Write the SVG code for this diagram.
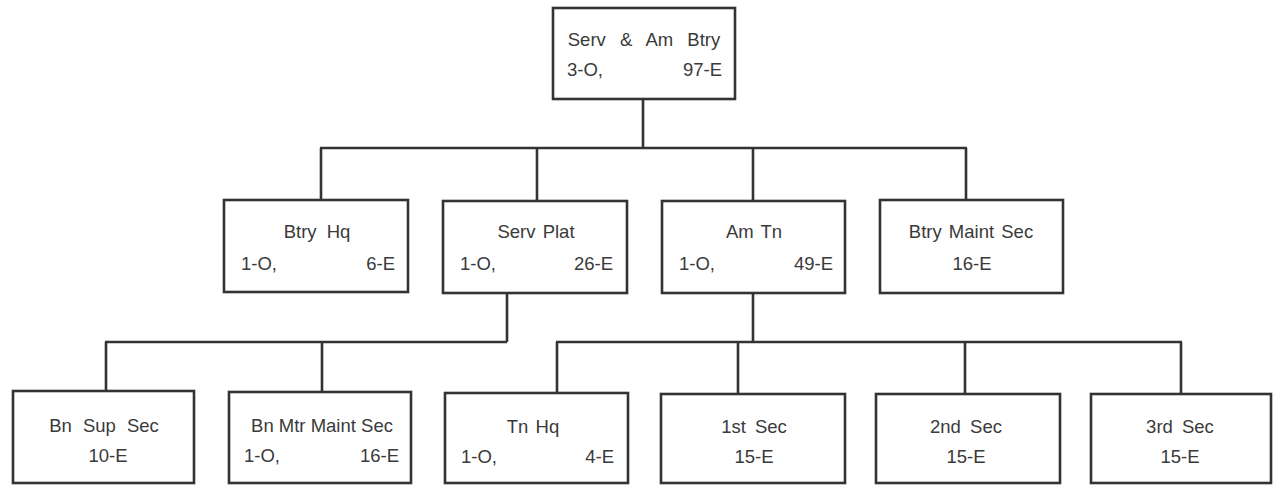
<svg xmlns="http://www.w3.org/2000/svg" width="1273" height="485" viewBox="0 0 1273 485">
<style>
.box{fill:#fff;stroke:#333;stroke-width:2.6}
.ln{fill:none;stroke:#333;stroke-width:2.6}
text{font-family:"Liberation Sans","DejaVu Sans",sans-serif;font-size:18.5px;fill:#3a3a3a;word-spacing:2px}
.c{text-anchor:middle}
.r{text-anchor:end}
</style>
<rect width="1273" height="485" fill="#fff"/>
<g id="connectors">
<path class="ln" d="M643 99V148M320 148H967M321 148V200M537 148V201M753 148V201M966 148V200"/>
<path class="ln" d="M507 293V342M105 342H507M106 342V391M322 342V392"/>
<path class="ln" d="M753 293V342M556 342H1182M557 342V393M738 342V394M965 342V394M1181 342V394"/>
</g>
<g id="n-serv-am-btry"><rect class="box" x="553" y="8" width="182" height="91"/>
<text class="c" x="644" y="46" style="word-spacing:9px">Serv &amp; Am Btry</text>
<text x="567" y="76">3-O,</text><text class="r" x="722" y="76">97-E</text></g>
<g id="n-btry-hq"><rect class="box" x="224" y="200" width="184" height="92"/>
<text class="c" x="317" y="238" style="word-spacing:5px">Btry Hq</text>
<text x="241" y="270">1-O,</text><text class="r" x="395" y="270">6-E</text></g>
<g id="n-serv-plat"><rect class="box" x="443" y="201" width="184" height="92"/>
<text class="c" x="536" y="238">Serv Plat</text>
<text x="460" y="270">1-O,</text><text class="r" x="613" y="270">26-E</text></g>
<g id="n-am-tn"><rect class="box" x="662" y="201" width="183" height="92"/>
<text class="c" x="754" y="238">Am Tn</text>
<text x="679" y="270">1-O,</text><text class="r" x="833" y="270">49-E</text></g>
<g id="n-btry-maint-sec"><rect class="box" x="880" y="200" width="183" height="93"/>
<text class="c" x="971" y="238">Btry Maint Sec</text>
<text class="c" x="972" y="270">16-E</text></g>
<g id="n-bn-sup-sec"><rect class="box" x="13" y="391" width="181" height="92"/>
<text class="c" x="104" y="432" style="word-spacing:6px">Bn Sup Sec</text>
<text class="c" x="108" y="462">10-E</text></g>
<g id="n-bn-mtr-maint-sec"><rect class="box" x="229" y="392" width="182" height="91"/>
<text class="c" x="322" y="432" style="word-spacing:0">Bn Mtr Maint Sec</text>
<text x="244" y="462">1-O,</text><text class="r" x="399" y="462">16-E</text></g>
<g id="n-tn-hq"><rect class="box" x="445" y="393" width="183" height="90"/>
<text class="c" x="533" y="433">Tn Hq</text>
<text x="461" y="463">1-O,</text><text class="r" x="614" y="463">4-E</text></g>
<g id="n-1st-sec"><rect class="box" x="661" y="394" width="184" height="89"/>
<text class="c" x="754" y="433" style="word-spacing:4px">1st Sec</text>
<text class="c" x="754" y="463">15-E</text></g>
<g id="n-2nd-sec"><rect class="box" x="876" y="394" width="184" height="89"/>
<text class="c" x="966" y="433" style="word-spacing:4px">2nd Sec</text>
<text class="c" x="966" y="463">15-E</text></g>
<g id="n-3rd-sec"><rect class="box" x="1091" y="394" width="180" height="89"/>
<text class="c" x="1180" y="433" style="word-spacing:4px">3rd Sec</text>
<text class="c" x="1180" y="463">15-E</text></g>
</svg>
